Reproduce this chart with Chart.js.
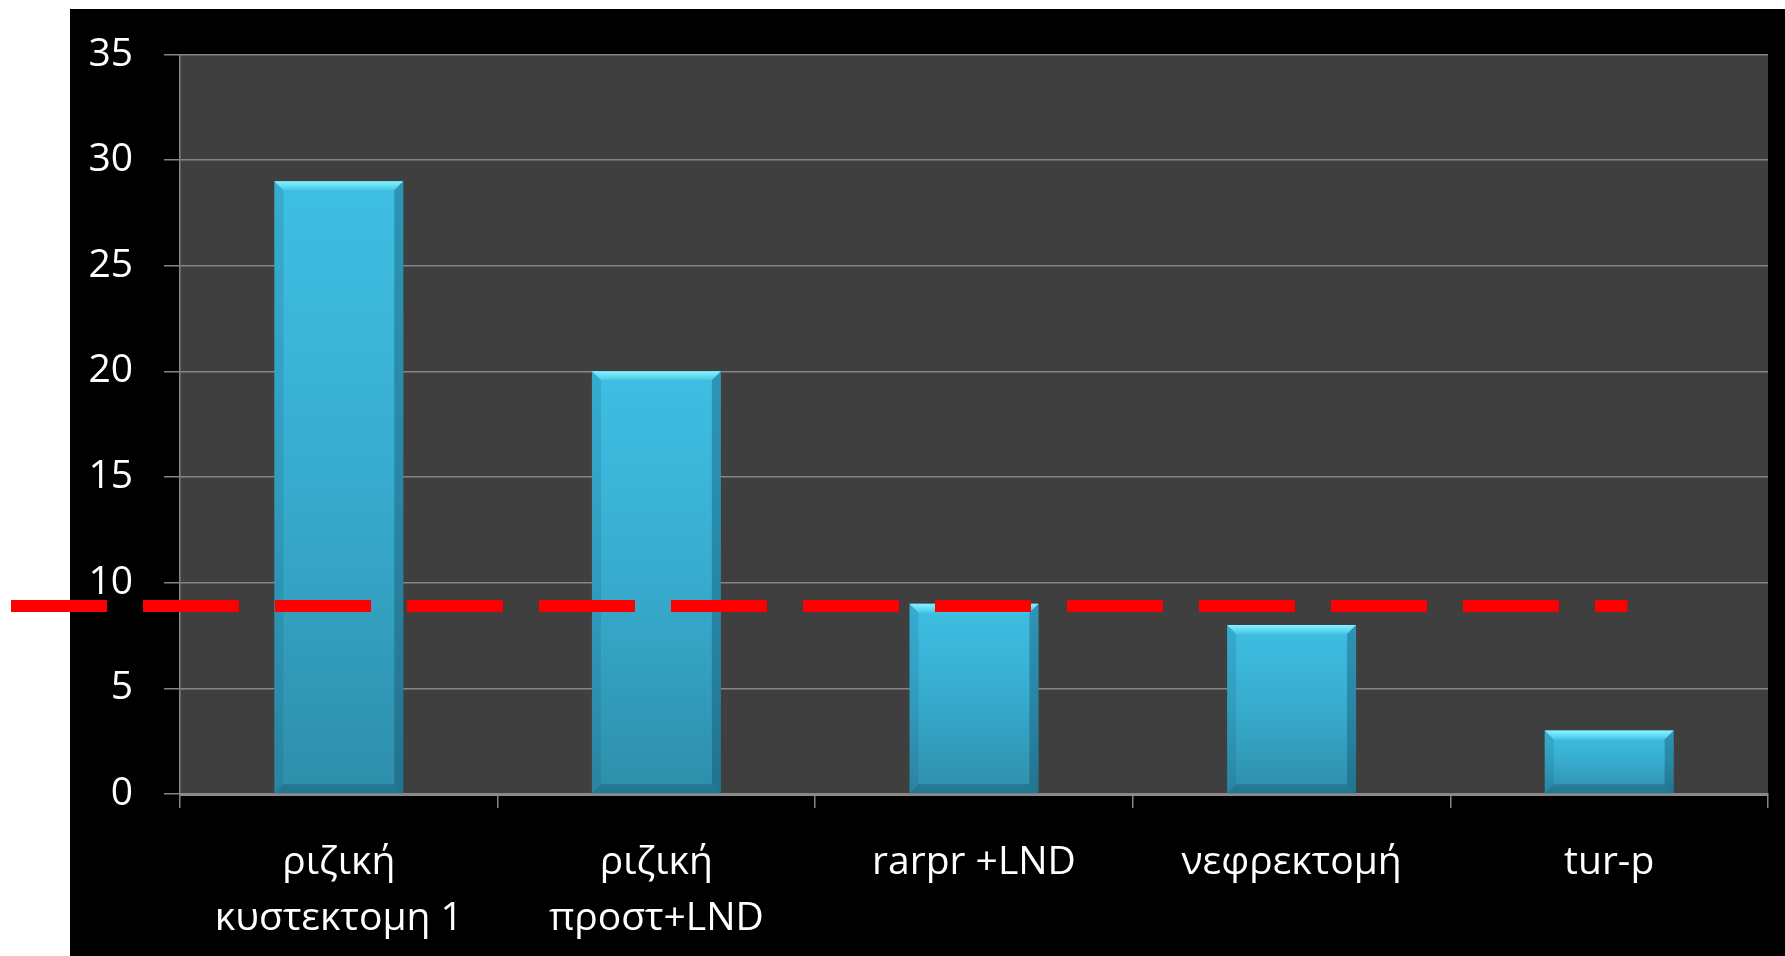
<!DOCTYPE html>
<html>
<head>
<meta charset="utf-8">
<script src="https://cdn.jsdelivr.net/npm/chart.js@4/dist/chart.umd.min.js"></script>
<style>
  html, body { margin: 0; padding: 0; background: #ffffff; }
  canvas { display: block; }
</style>
</head>
<body>
<canvas id="chart" width="1785" height="956"></canvas>
<script>
// Procedures and their counts
const categories = [
  ['ριζική', 'κυστεκτομη 1'],
  ['ριζική', 'προστ+LND'],
  'rarpr +LND',
  'νεφρεκτομή',
  'tur-p'
];
const counts = [29, 20, 9, 8, 3];

// Y axis range and step
const yMin = 0;
const yMax = 35;
const yStep = 5;

// Level of the dashed red reference line
const referenceLevel = 8.9;

const FONT = "'Open Sans', 'DejaVu Sans', sans-serif";

// Black panel behind the chart and dark-grey plotting area
const panelPlugin = {
  id: 'panel',
  beforeDraw(chart) {
    const { ctx, chartArea } = chart;
    ctx.save();
    ctx.fillStyle = '#ffffff';
    ctx.fillRect(0, 0, chart.width, chart.height);
    ctx.fillStyle = '#000000';
    ctx.fillRect(70, 9, chart.width - 70, chart.height - 9);
    ctx.fillStyle = '#3f3f3f';
    ctx.fillRect(chartArea.left, chartArea.top, chartArea.right - chartArea.left, chartArea.bottom - chartArea.top);
    ctx.restore();
  }
};

// Bevelled edges on each bar
const bevelPlugin = {
  id: 'bevel',
  afterDatasetsDraw(chart) {
    const { ctx } = chart;
    const meta = chart.getDatasetMeta(0);
    ctx.save();
    meta.data.forEach((bar) => {
      const p = bar.getProps(['x', 'y', 'base', 'width'], true);
      const l = p.x - p.width / 2, r = p.x + p.width / 2;
      const t = p.y, b = p.base;
      const bv = 9;
      // top face
      const g = ctx.createLinearGradient(0, t, 0, t + bv);
      g.addColorStop(0, '#86f4ff');
      g.addColorStop(1, '#47c6e6');
      ctx.fillStyle = g;
      ctx.beginPath();
      ctx.moveTo(l, t); ctx.lineTo(r, t); ctx.lineTo(r - bv, t + bv); ctx.lineTo(l + bv, t + bv);
      ctx.closePath(); ctx.fill();
      // left face
      ctx.fillStyle = 'rgba(20, 90, 115, 0.18)';
      ctx.beginPath();
      ctx.moveTo(l, t); ctx.lineTo(l + bv, t + bv); ctx.lineTo(l + bv, b - bv); ctx.lineTo(l, b);
      ctx.closePath(); ctx.fill();
      // right face
      ctx.fillStyle = 'rgba(10, 60, 85, 0.32)';
      ctx.beginPath();
      ctx.moveTo(r, t); ctx.lineTo(r - bv, t + bv); ctx.lineTo(r - bv, b - bv); ctx.lineTo(r, b);
      ctx.closePath(); ctx.fill();
      // bottom face
      ctx.fillStyle = 'rgba(10, 60, 85, 0.28)';
      ctx.beginPath();
      ctx.moveTo(l, b); ctx.lineTo(l + bv, b - bv); ctx.lineTo(r - bv, b - bv); ctx.lineTo(r, b);
      ctx.closePath(); ctx.fill();
    });
    ctx.restore();
  }
};

// Dashed red reference line across the chart
const referencePlugin = {
  id: 'reference',
  afterDraw(chart) {
    const { ctx, chartArea, scales } = chart;
    const y = scales.y.getPixelForValue(referenceLevel);
    const x0 = 11;
    const x1 = chartArea.left + (chartArea.right - chartArea.left) * 0.9115;
    ctx.save();
    ctx.strokeStyle = '#ff0000';
    ctx.lineWidth = 12;
    ctx.lineCap = 'butt';
    ctx.setLineDash([96, 36]);
    ctx.beginPath();
    ctx.moveTo(x0, y);
    ctx.lineTo(x1, y);
    ctx.stroke();
    ctx.restore();
  }
};

function barGradient(context) {
  const chart = context.chart;
  if (!chart.chartArea || context.type !== 'data') return '#3cbbe0';
  const y = chart.scales.y;
  const top = y.getPixelForValue(context.parsed.y);
  const base = y.getPixelForValue(0);
  const g = chart.ctx.createLinearGradient(0, top, 0, base);
  g.addColorStop(0, '#3ebfe3');
  g.addColorStop(0.5, '#37abce');
  g.addColorStop(1, '#2e8eaa');
  return g;
}

new Chart(document.getElementById('chart'), {
  type: 'bar',
  data: {
    labels: categories,
    datasets: [{
      data: counts,
      backgroundColor: barGradient,
      borderWidth: 0,
      categoryPercentage: 1,
      barPercentage: 0.406
    }]
  },
  options: {
    responsive: false,
    devicePixelRatio: 1,
    animation: false,
    layout: { padding: { left: 70, top: 52, right: 17, bottom: 0 } },
    plugins: {
      legend: { display: false },
      tooltip: { enabled: false }
    },
    scales: {
      x: {
        grid: {
          display: true,
          drawOnChartArea: false,
          drawTicks: true,
          tickLength: 14,
          color: '#858585',
          lineWidth: 1.5
        },
        border: { display: true, color: '#8a8a8a', width: 3 },
        ticks: {
          color: '#ffffff',
          font: { family: FONT, size: 39, lineHeight: 1.44 },
          padding: 27,
          maxRotation: 0,
          autoSkip: false
        },
        afterFit(axis) { axis.height = 162; }
      },
      y: {
        min: yMin,
        max: yMax,
        grid: {
          color: '#858585',
          lineWidth: 1.5,
          drawTicks: true,
          tickLength: 16
        },
        border: { display: true, color: '#858585', width: 1.5 },
        ticks: {
          stepSize: yStep,
          color: '#ffffff',
          font: { family: FONT, size: 39 },
          padding: 31
        },
        afterFit(axis) { axis.width = 110; }
      }
    }
  },
  plugins: [panelPlugin, bevelPlugin, referencePlugin]
});
</script>
</body>
</html>
